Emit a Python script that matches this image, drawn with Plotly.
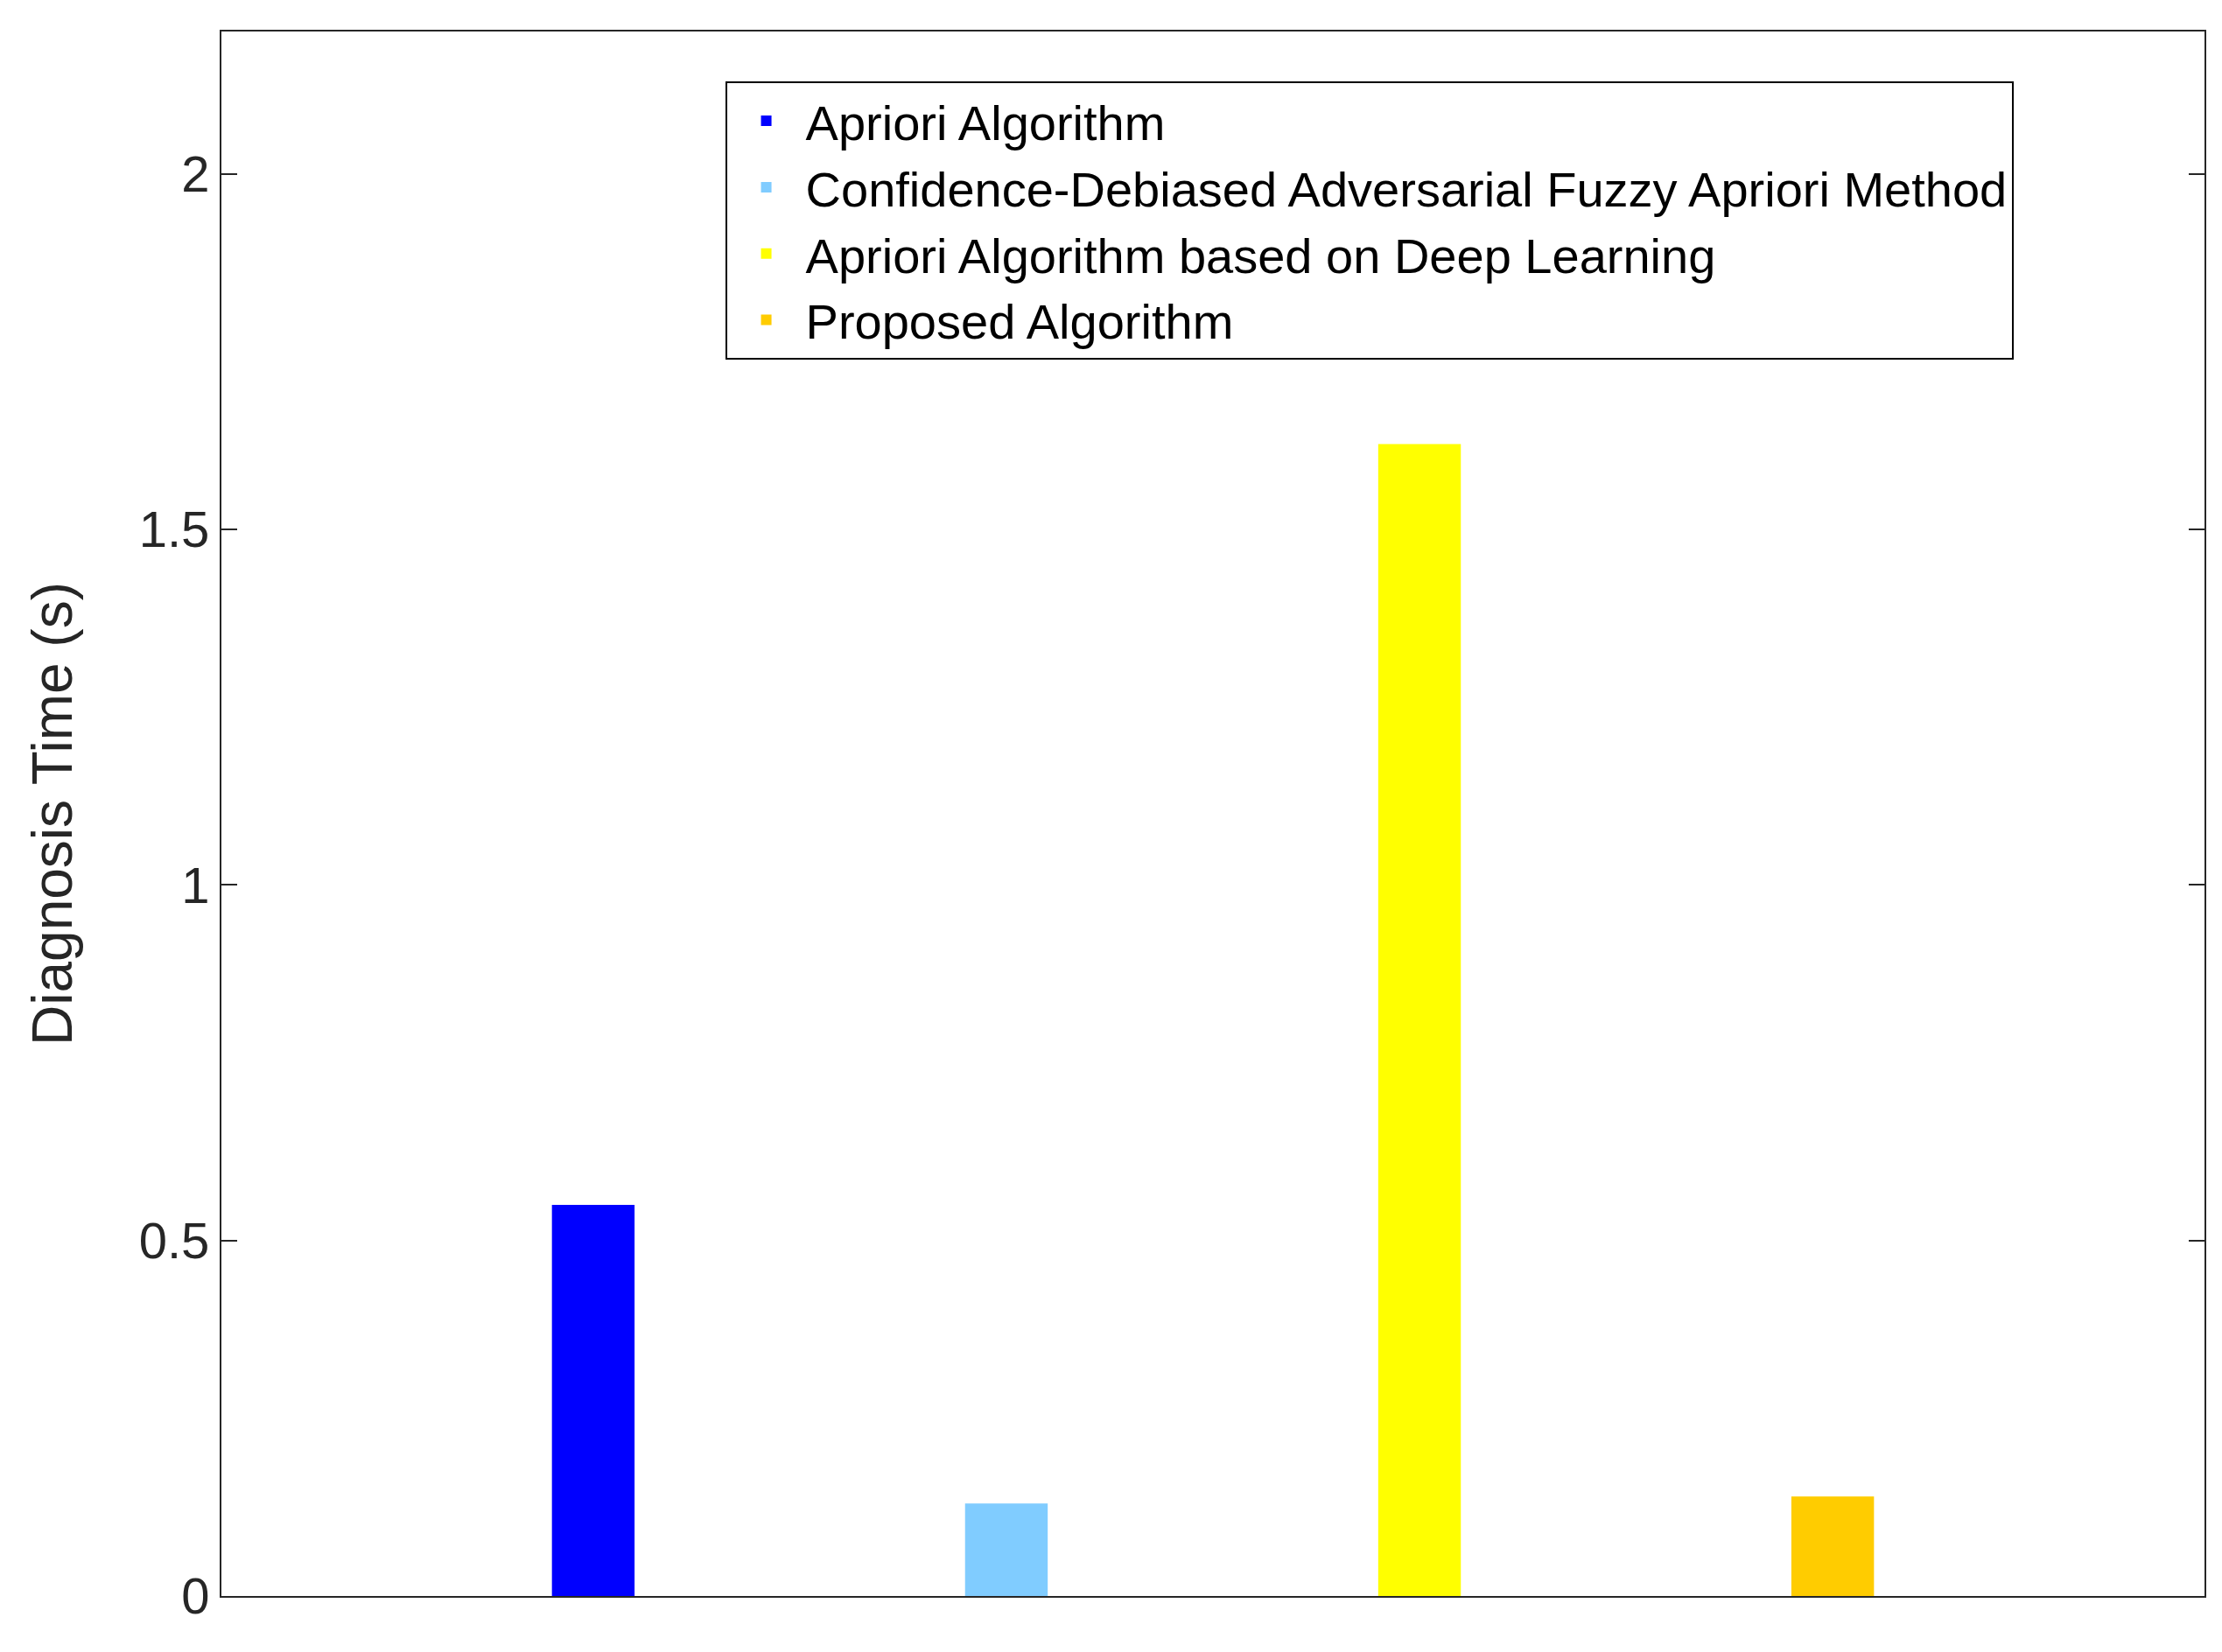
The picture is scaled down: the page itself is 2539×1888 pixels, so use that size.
import plotly.graph_objects as go

methods = ["Apriori Algorithm", "Confidence-Debiased Adversarial Fuzzy Apriori Method",
           "Apriori Algorithm based on Deep Learning", "Proposed Algorithm"]
positions = [1, 2, 3, 4]
times = [0.55, 0.13, 1.62, 0.14]
colors = ["#0000ff", "#80ccff", "#ffff00", "#ffcc00"]

fig = go.Figure()
for m, p, t, c in zip(methods, positions, times, colors):
    fig.add_trace(go.Bar(x=[p], y=[t], name=m, marker=dict(color=c, line=dict(width=0)), width=0.2))

fig.update_layout(
    width=2539, height=1888, paper_bgcolor="white", plot_bgcolor="white",
    margin=dict(l=245, r=28, t=28, b=72),
    barmode="overlay",
    font=dict(family="Liberation Sans, Arial", color="#262626"),
    legend=dict(x=0.254, y=0.968, xanchor="left", yanchor="top",
                bordercolor="black", borderwidth=2, bgcolor="white",
                font=dict(size=56, color="black"), itemwidth=80, tracegroupgap=0),
    xaxis=dict(range=[0.1, 4.9], showticklabels=False, ticks="", showgrid=False,
               showline=True, linecolor="#262626", linewidth=2, mirror=True, zeroline=False),
    yaxis=dict(range=[0, 2.2], tickvals=[0, 0.5, 1, 1.5, 2], ticktext=["0", "0.5", "1", "1.5", "2"],
               ticks="inside", ticklen=18, tickwidth=2, tickcolor="#262626",
               showgrid=False, showline=True, linecolor="#262626", linewidth=2, mirror="ticks",
               zeroline=False, tickfont=dict(size=58),
               title=dict(text="Diagnosis Time (s)", font=dict(size=64), standoff=55)),
)
fig.write_html("out.html")
